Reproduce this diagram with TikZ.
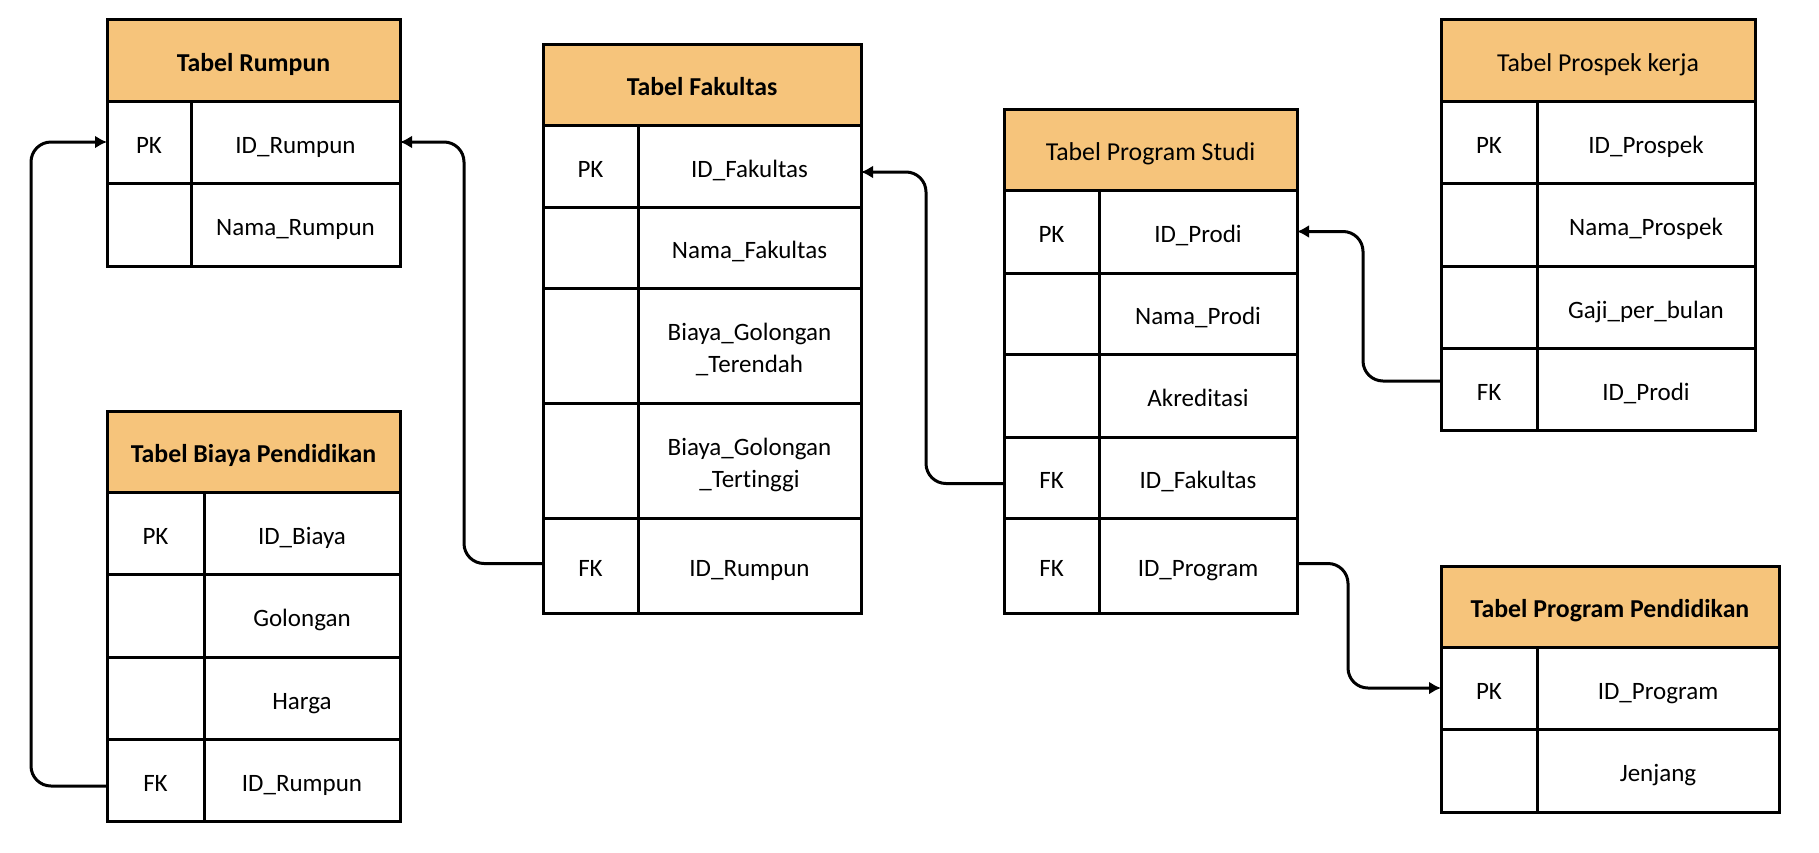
\documentclass[tikz,border=0pt]{standalone}
\usepackage{fontspec}
\setmainfont{Carlito}[Ligatures=NoCommon]
\usetikzlibrary{arrows.meta}
\definecolor{hdrfill}{HTML}{F6C47B}
\tikzset{
  tcellbase/.style={draw, line width=1.5pt, inner sep=0pt, outer sep=0pt, anchor=north west},
  hdrcell/.style={tcellbase, fill=hdrfill, font=\fontsize{12.9}{16}\selectfont\bfseries},
  hdrplain/.style={tcellbase, fill=hdrfill, font=\fontsize{12.9}{16}\selectfont},
  keycell/.style={tcellbase, fill=white, font=\fontsize{12.5}{16}\selectfont},
  valcell/.style={tcellbase, fill=white, font=\fontsize{12.5}{16}\selectfont},
  conn/.style={line width=1.5pt, rounded corners=10pt, -{Latex[length=6pt,width=6.5pt]}}
}
% name, x1, y1, x2, y2, style, text
\newcommand\tcell[7]{%
  \node[#6, minimum width={(#4-#2)*0.5pt}, minimum height={(#5-#3)*0.5pt}] (#1) at (#2,#3)
  {\raisebox{-2.3pt}[\height][\depth]{\begin{tabular}{@{}c@{}}#7\end{tabular}}};}
\begin{document}
\begin{tikzpicture}[x=0.5pt,y=-0.5pt]
\useasboundingbox (0,0) rectangle (1819,852);
\fill[white] (0,0) rectangle (1819,852);

% Tabel Rumpun
\tcell{rH}{107}{19}{400}{101}{hdrcell}{Tabel Rumpun}
\tcell{rK1}{107}{101}{191}{183}{keycell}{PK}
\tcell{rV1}{191}{101}{400}{183}{valcell}{ID\_Rumpun}
\tcell{rK2}{107}{183}{191}{266}{keycell}{}
\tcell{rV2}{191}{183}{400}{266}{valcell}{Nama\_Rumpun}

% Tabel Biaya Pendidikan
\tcell{bH}{107}{411}{400}{492}{hdrcell}{Tabel Biaya Pendidikan}
\tcell{bK1}{107}{492}{204}{574}{keycell}{PK}
\tcell{bV1}{204}{492}{400}{574}{valcell}{ID\_Biaya}
\tcell{bK2}{107}{574}{204}{657}{keycell}{}
\tcell{bV2}{204}{574}{400}{657}{valcell}{Golongan}
\tcell{bK3}{107}{657}{204}{739}{keycell}{}
\tcell{bV3}{204}{657}{400}{739}{valcell}{Harga}
\tcell{bK4}{107}{739}{204}{821}{keycell}{FK}
\tcell{bV4}{204}{739}{400}{821}{valcell}{ID\_Rumpun}

% Tabel Fakultas
\tcell{fH}{543}{44}{861}{125}{hdrcell}{Tabel Fakultas}
\tcell{fK1}{543}{125}{638}{207}{keycell}{PK}
\tcell{fV1}{638}{125}{861}{207}{valcell}{ID\_Fakultas}
\tcell{fK2}{543}{207}{638}{288}{keycell}{}
\tcell{fV2}{638}{207}{861}{288}{valcell}{Nama\_Fakultas}
\tcell{fK3}{543}{288}{638}{403}{keycell}{}
\tcell{fV3}{638}{288}{861}{403}{valcell}{Biaya\_Golongan\\\_Terendah}
\tcell{fK4}{543}{403}{638}{518}{keycell}{}
\tcell{fV4}{638}{403}{861}{518}{valcell}{Biaya\_Golongan\\\_Tertinggi}
\tcell{fK5}{543}{518}{638}{613}{keycell}{FK}
\tcell{fV5}{638}{518}{861}{613}{valcell}{ID\_Rumpun}

% Tabel Program Studi
\tcell{sH}{1004}{109}{1297}{190}{hdrplain}{Tabel Program Studi}
\tcell{sK1}{1004}{190}{1099}{273}{keycell}{PK}
\tcell{sV1}{1099}{190}{1297}{273}{valcell}{ID\_Prodi}
\tcell{sK2}{1004}{273}{1099}{354}{keycell}{}
\tcell{sV2}{1099}{273}{1297}{354}{valcell}{Nama\_Prodi}
\tcell{sK3}{1004}{354}{1099}{437}{keycell}{}
\tcell{sV3}{1099}{354}{1297}{437}{valcell}{Akreditasi}
\tcell{sK4}{1004}{437}{1099}{518}{keycell}{FK}
\tcell{sV4}{1099}{437}{1297}{518}{valcell}{ID\_Fakultas}
\tcell{sK5}{1004}{518}{1099}{613}{keycell}{FK}
\tcell{sV5}{1099}{518}{1297}{613}{valcell}{ID\_Program}

% Tabel Prospek kerja
\tcell{kH}{1441}{19}{1755}{101}{hdrplain}{Tabel Prospek kerja}
\tcell{kK1}{1441}{101}{1537}{183}{keycell}{PK}
\tcell{kV1}{1537}{101}{1755}{183}{valcell}{ID\_Prospek}
\tcell{kK2}{1441}{183}{1537}{266}{keycell}{}
\tcell{kV2}{1537}{183}{1755}{266}{valcell}{Nama\_Prospek}
\tcell{kK3}{1441}{266}{1537}{348}{keycell}{}
\tcell{kV3}{1537}{266}{1755}{348}{valcell}{Gaji\_per\_bulan}
\tcell{kK4}{1441}{348}{1537}{430}{keycell}{FK}
\tcell{kV4}{1537}{348}{1755}{430}{valcell}{ID\_Prodi}

% Tabel Program Pendidikan
\tcell{pH}{1441}{566}{1779}{647}{hdrcell}{Tabel Program Pendidikan}
\tcell{pK1}{1441}{647}{1537}{729}{keycell}{PK}
\tcell{pV1}{1537}{647}{1779}{729}{valcell}{ID\_Program}
\tcell{pK2}{1441}{729}{1537}{812}{keycell}{}
\tcell{pV2}{1537}{729}{1779}{812}{valcell}{Jenjang}

% Connectors
\draw[conn] ([yshift=-3pt]bK4.west) -- ++(-76,0) |- (rK1.west);
\draw[conn] ([yshift=1pt]fK5.west) -- ++(-79,0) |- (rV1.east);
\draw[conn] ([yshift=-3pt]sK4.west) -- ++(-78,0) |- ([yshift=-3pt]fV1.east);
\draw[conn] ([yshift=4pt]kK4.west) -- ++(-78,0) |- (sV1.east);
\draw[conn] ([yshift=1pt]sV5.east) -- ++(51,0) |- (pK1.west);
\end{tikzpicture}
\end{document}
